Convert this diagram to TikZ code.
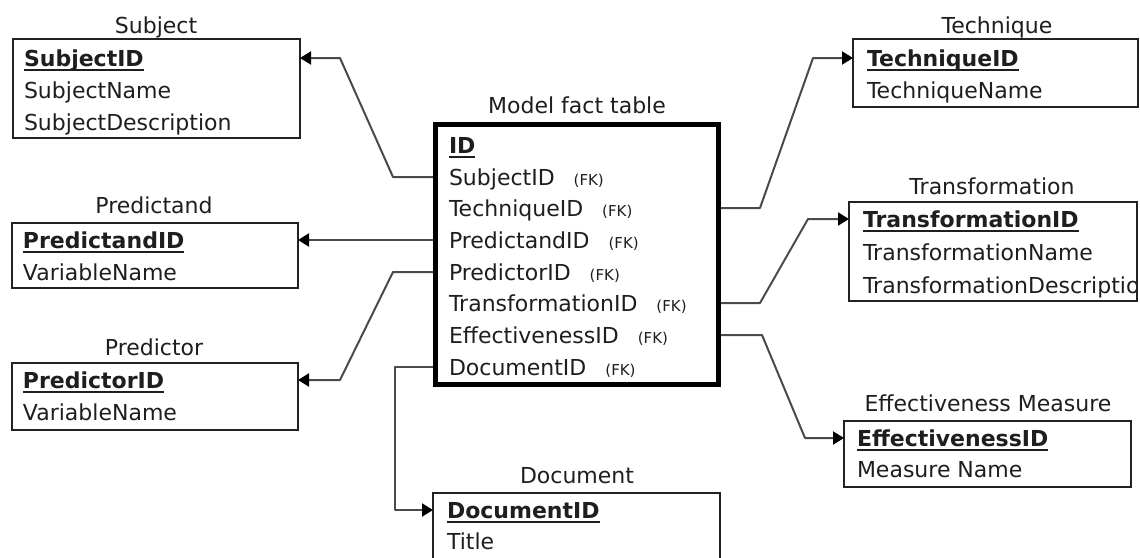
\documentclass[tikz,border=0pt]{standalone}
\usepackage{fontspec}
\setmainfont{DejaVu Sans}
\usetikzlibrary{arrows.meta}
\definecolor{txt}{HTML}{1E1E1E}
\definecolor{edge}{HTML}{222222}
\definecolor{wire}{HTML}{4A4A4A}
\newcommand\bodyfont{\fontsize{22}{26}\selectfont}
\newcommand\fkfont{\fontsize{15}{17}\selectfont}
\newcommand\keytext[1]{\setbox0\hbox{\bfseries #1}\rlap{\vrule width\wd0 height -3pt depth 5pt}\box0}
\newcommand\fkrow[1]{#1\hspace{19pt}{\fkfont (FK)}}
\begin{document}
\begin{tikzpicture}[x=1pt,y=-1pt,
  every node/.style={inner sep=0pt,outer sep=0pt,text=txt},
  tbox/.style={draw=edge,line width=1.5pt,anchor=north west},
  fbox/.style={draw=black,line width=5pt,anchor=north west},
  ttl/.style={font=\bodyfont,anchor=base,yshift=-8pt},
  row/.style={anchor=base west,font=\bodyfont,yshift=-8pt},
  conn/.style={draw=wire,line width=2pt,line join=round,-{Triangle[length=11pt,width=13pt,color=black]}}]
\useasboundingbox (0,0) rectangle (1140,557);
\clip (0,0) rectangle (1140,557);
\fill[white] (0,0) rectangle (1140,557);

% ---- Subject
\node[ttl] (subject-t) at (156,25) {Subject};
\node[tbox,minimum width=287pt,minimum height=99pt] (subject) at (13,39) {};
\node[row] (s-1) at (24,58) {\keytext{SubjectID}};
\node[row] (s-2) at (24,90) {SubjectName};
\node[row] (s-3) at (24,122) {SubjectDescription};

% ---- Predictand
\node[ttl] (predictand-t) at (154,205) {Predictand};
\node[tbox,minimum width=286pt,minimum height=65pt] (predictand) at (12,223) {};
\node[row] (pd-1) at (23,240) {\keytext{PredictandID}};
\node[row] (pd-2) at (23,272) {VariableName};

% ---- Predictor
\node[ttl] (predictor-t) at (154,347) {Predictor};
\node[tbox,minimum width=286pt,minimum height=67pt] (predictor) at (12,363) {};
\node[row] (pr-1) at (23,380) {\keytext{PredictorID}};
\node[row] (pr-2) at (23,412) {VariableName};

% ---- Fact table
\node[ttl] (fact-t) at (577,105) {Model fact table};
\node[fbox,minimum width=283pt,minimum height=260pt] (fact) at (435.5,124.5) {};
\node[row] (f-id) at (449,145) {\keytext{ID}};
\node[row] (f-subj) at (449,177) {\fkrow{SubjectID}};
\node[row] (f-tech) at (449,208) {\fkrow{TechniqueID}};
\node[row] (f-pd) at (449,240) {\fkrow{PredictandID}};
\node[row] (f-pr) at (449,272) {\fkrow{PredictorID}};
\node[row] (f-tr) at (449,303) {\fkrow{TransformationID}};
\node[row] (f-eff) at (449,335) {\fkrow{EffectivenessID}};
\node[row] (f-doc) at (449,367) {\fkrow{DocumentID}};

% ---- Document
\node[ttl] (document-t) at (577,475) {Document};
\node[tbox,minimum width=287pt,minimum height=80pt] (document) at (433,493) {};
\node[row] (doc-1) at (447,510) {\keytext{DocumentID}};
\node[row] (doc-2) at (447,541) {Title};

% ---- Technique
\node[ttl] (technique-t) at (997,25) {Technique};
\node[tbox,minimum width=285pt,minimum height=68pt] (technique) at (853,39) {};
\node[row] (t-1) at (867,58) {\keytext{TechniqueID}};
\node[row] (t-2) at (867,90) {TechniqueName};

% ---- Transformation
\node[ttl] (transformation-t) at (992,186) {Transformation};
\begin{scope}
\clip (849,202) rectangle (1137,301);
\node[row] (tr-1) at (863,219) {\keytext{TransformationID}};
\node[row] (tr-2) at (863,252) {TransformationName};
\node[row] (tr-3) at (863,285) {TransformationDescription};
\end{scope}
\node[tbox,minimum width=288pt,minimum height=99pt] (transformation) at (849,202) {};

% ---- Effectiveness Measure
\node[ttl] (effect-t) at (988,403) {Effectiveness Measure};
\node[tbox,minimum width=287pt,minimum height=66pt] (effect) at (844,421) {};
\node[row] (e-1) at (857,438) {\keytext{EffectivenessID}};
\node[row] (e-2) at (857,469) {Measure Name};

% ---- row centres (base + 8pt)
\foreach \r in {s-1,pd-1,pr-1,doc-1,t-1,tr-1,e-1,f-subj,f-pd,f-pr,f-doc,f-tech,f-tr,f-eff}
  \coordinate (\r-c) at ([yshift=8pt]\r.base west);

% ---- Connectors
\draw[conn] (fact.west |- f-subj-c) -- (393,177) -- (340,58) -- (subject.east |- s-1-c);
\draw[conn] (fact.west |- f-pd-c) -- (predictand.east |- pd-1-c);
\draw[conn] (fact.west |- f-pr-c) -- (393,272) -- (340,380) -- (predictor.east |- pr-1-c);
\draw[conn] (fact.west |- f-doc-c) -- (395,367) -- (395,510) -- (document.west |- doc-1-c);
\draw[conn] (fact.east |- f-tech-c) -- (760,208) -- (813,58) -- (technique.west |- t-1-c);
\draw[conn] (fact.east |- f-tr-c) -- (760,303) -- (808,219) -- (transformation.west |- tr-1-c);
\draw[conn] (fact.east |- f-eff-c) -- (762,335) -- (805,438) -- (effect.west |- e-1-c);

% redraw fact border on top of connector ends
\draw[black,line width=5pt] (fact.north west) rectangle (fact.south east);
\end{tikzpicture}
\end{document}
